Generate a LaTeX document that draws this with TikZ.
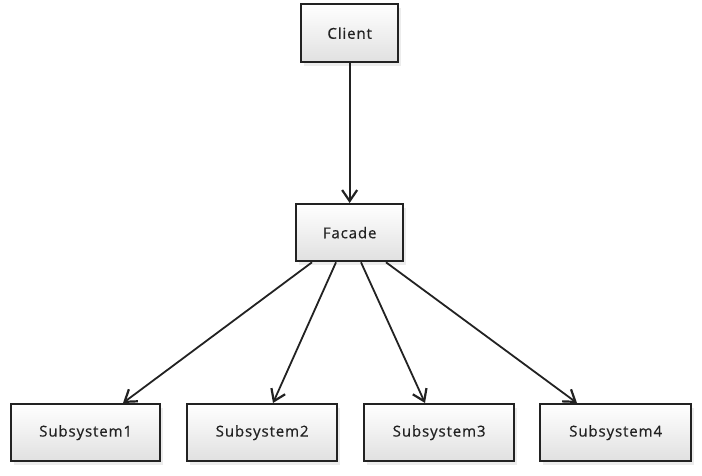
\documentclass[tikz,border=0pt]{standalone}
\usepackage{fontspec}
\newfontfamily\hand[LetterSpace=6,FakeBold=0.6]{Open Sans}
\usetikzlibrary{arrows.meta,shadows,calc}
\definecolor{ink}{HTML}{222222}
\begin{document}
\begin{tikzpicture}[x=1pt,y=-1pt,
  box/.style={draw=ink, line width=2.3pt, rectangle, anchor=north west,
    top color=white, bottom color=black!12, inner sep=0pt,
    drop shadow={shadow xshift=3pt, shadow yshift=-4pt, opacity=0.15},
    font=\hand\fontsize{15}{17}\selectfont, text=ink},
  link/.style={draw=ink, line width=1.8pt, -{Straight Barb[length=11pt,width=15pt,line width=2.2pt]}}
]
\useasboundingbox (0,0) rectangle (702,476);
\node[box, minimum width=97pt, minimum height=58pt] (client) at (300,3) {Client};
\node[box, minimum width=107pt, minimum height=57pt] (facade) at (295,203) {Facade};
\node[box, minimum width=149pt, minimum height=57pt] (s1) at (10,403) {Subsystem1};
\node[box, minimum width=150pt, minimum height=57pt] (s2) at (186,403) {Subsystem2};
\node[box, minimum width=150pt, minimum height=57pt] (s3) at (363,403) {Subsystem3};
\node[box, minimum width=151pt, minimum height=57pt] (s4) at (539,403) {Subsystem4};
\draw[link] (client.south) -- (facade.north);
\draw[link] ($(facade.south west)+(17,0)$) -- ($(s1.north west)+(113,0)$);
\draw[link] ($(facade.south west)+(41,0)$) -- ($(s2.north west)+(87,0)$);
\draw[link] ($(facade.south west)+(66,0)$) -- ($(s3.north west)+(62,0)$);
\draw[link] ($(facade.south west)+(91,0)$) -- ($(s4.north west)+(38,0)$);
\end{tikzpicture}
\end{document}
